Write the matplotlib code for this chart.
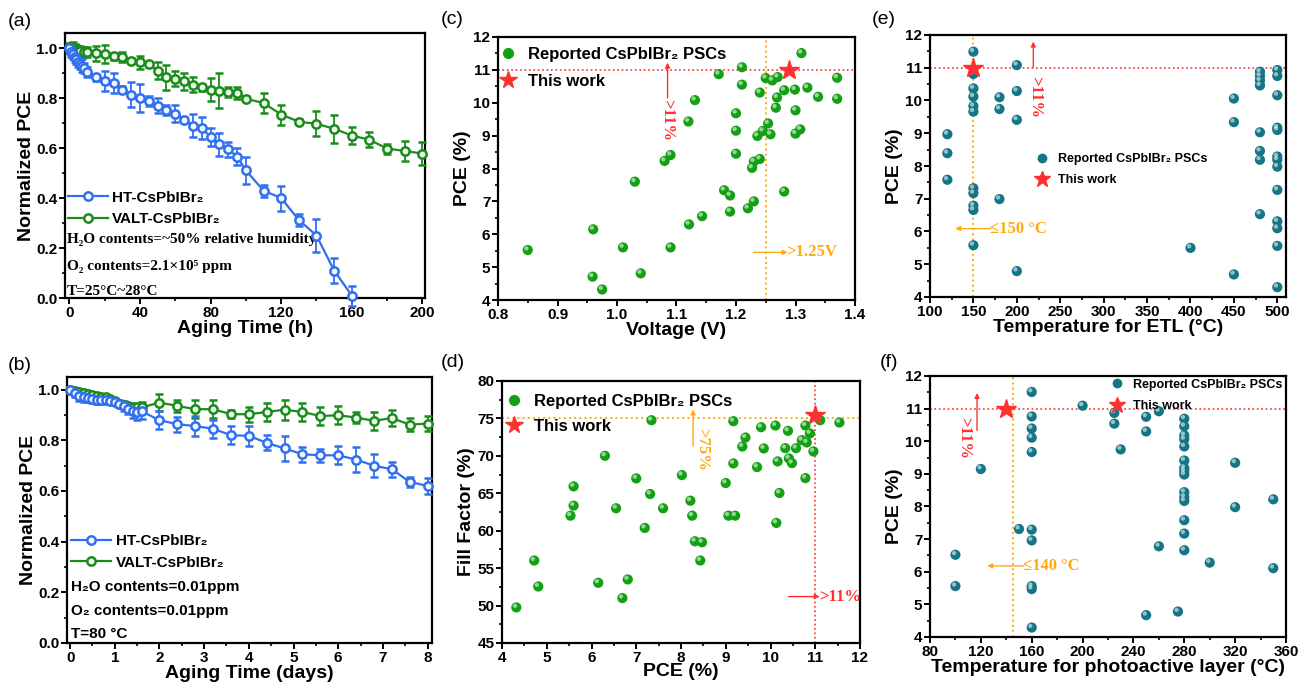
import matplotlib
matplotlib.use("Agg")
import matplotlib.pyplot as plt
from matplotlib.ticker import MultipleLocator, FormatStrFormatter
from matplotlib.lines import Line2D
import matplotlib.transforms as mtrans

plt.rcParams['font.family'] = ['Liberation Sans', 'DejaVu Sans']
plt.rcParams['font.weight'] = 'bold'
plt.rcParams['axes.labelweight'] = 'bold'

SANS = ['Liberation Sans', 'DejaVu Sans']
SERIF = ['Liberation Serif', 'DejaVu Serif']

BLUE = '#2f6ff0'
GREEN = '#1a8c1a'
SGREEN = '#14a014'
TEAL = '#137585'
RED = '#ff3030'
ORANGE = '#ffaa10'

# ---------------- data (a) ----------------
a_ht_t = [0, 1, 2, 3, 4, 5, 6, 7, 8, 10, 15, 20, 25, 30, 35, 40, 45, 50, 55, 60, 65, 70, 75, 80, 85, 90, 95, 100, 110, 120, 130, 140, 150, 160]
a_ht_v = [1.0, 0.985, 0.975, 0.965, 0.955, 0.945, 0.937, 0.93, 0.922, 0.905, 0.883, 0.87, 0.86, 0.834, 0.814, 0.80, 0.787, 0.77, 0.752, 0.738, 0.714, 0.69, 0.68, 0.644, 0.615, 0.595, 0.566, 0.511, 0.429, 0.40, 0.312, 0.25, 0.11, 0.01]
a_ht_e = [0.01, 0.02, 0.02, 0.02, 0.02, 0.02, 0.02, 0.025, 0.02, 0.02, 0.015, 0.04, 0.04, 0.015, 0.05, 0.055, 0.02, 0.03, 0.02, 0.035, 0.01, 0.045, 0.045, 0.035, 0.045, 0.03, 0.035, 0.055, 0.025, 0.05, 0.025, 0.065, 0.05, 0.04]
a_va_t = [0, 1, 2, 3, 4, 5, 6, 8, 10, 15, 20, 25, 30, 35, 40, 45, 50, 55, 60, 65, 70, 75, 80, 85, 90, 95, 100, 110, 120, 130, 140, 150, 160, 170, 180, 190, 200]
a_va_v = [1.0, 1.0, 0.998, 0.995, 0.993, 0.99, 0.988, 0.985, 0.983, 0.98, 0.977, 0.967, 0.963, 0.95, 0.943, 0.936, 0.91, 0.883, 0.878, 0.867, 0.854, 0.843, 0.834, 0.83, 0.825, 0.82, 0.797, 0.78, 0.734, 0.705, 0.697, 0.677, 0.65, 0.633, 0.598, 0.588, 0.578]
a_va_e = [0.02, 0.02, 0.025, 0.02, 0.02, 0.02, 0.02, 0.02, 0.02, 0.03, 0.035, 0.015, 0.02, 0.01, 0.025, 0.01, 0.035, 0.05, 0.03, 0.035, 0.03, 0.015, 0.045, 0.07, 0.02, 0.025, 0.01, 0.04, 0.04, 0.01, 0.05, 0.055, 0.035, 0.03, 0.02, 0.04, 0.045]

# ---------------- data (b) ----------------
b_ht_t = [0, 0.1, 0.2, 0.3, 0.4, 0.5, 0.6, 0.7, 0.8, 0.9, 1.0, 1.1, 1.2, 1.3, 1.4, 1.5, 1.6, 2.0, 2.4, 2.8, 3.2, 3.6, 4.0, 4.4, 4.8, 5.2, 5.6, 6.0, 6.4, 6.8, 7.2, 7.6, 8.0]
b_ht_v = [1.0, 0.985, 0.975, 0.972, 0.968, 0.963, 0.96, 0.96, 0.958, 0.955, 0.95, 0.945, 0.935, 0.925, 0.915, 0.912, 0.915, 0.879, 0.864, 0.856, 0.846, 0.82, 0.818, 0.79, 0.768, 0.745, 0.741, 0.741, 0.724, 0.70, 0.686, 0.636, 0.62]
b_ht_e = [0.01, 0.015, 0.02, 0.02, 0.015, 0.015, 0.015, 0.015, 0.01, 0.01, 0.01, 0.015, 0.02, 0.02, 0.025, 0.03, 0.03, 0.035, 0.03, 0.04, 0.035, 0.035, 0.04, 0.03, 0.05, 0.03, 0.025, 0.035, 0.05, 0.045, 0.03, 0.02, 0.03]
b_va_t = [0, 0.1, 0.2, 0.3, 0.4, 0.5, 0.6, 0.7, 0.8, 0.9, 1.0, 1.1, 1.2, 1.3, 1.4, 1.5, 1.6, 2.0, 2.4, 2.8, 3.2, 3.6, 4.0, 4.4, 4.8, 5.2, 5.6, 6.0, 6.4, 6.8, 7.2, 7.6, 8.0]
b_va_v = [1.0, 0.995, 0.99, 0.985, 0.982, 0.978, 0.975, 0.973, 0.97, 0.962, 0.955, 0.945, 0.94, 0.935, 0.932, 0.93, 0.93, 0.949, 0.936, 0.923, 0.923, 0.903, 0.903, 0.912, 0.921, 0.912, 0.896, 0.899, 0.89, 0.877, 0.888, 0.862, 0.866]
b_va_e = [0.01, 0.01, 0.01, 0.01, 0.01, 0.01, 0.01, 0.01, 0.01, 0.01, 0.01, 0.01, 0.01, 0.01, 0.01, 0.015, 0.02, 0.035, 0.025, 0.035, 0.035, 0.015, 0.03, 0.035, 0.04, 0.035, 0.035, 0.035, 0.02, 0.035, 0.03, 0.025, 0.03]

# ---------------- data (c) ----------------
c_voc = [0.85, 0.96, 0.959, 0.975, 1.01, 1.04, 1.03, 1.08, 1.09, 1.09, 1.12, 1.131, 1.121, 1.143, 1.171, 1.18, 1.19, 1.19, 1.21, 1.21, 1.20, 1.20, 1.20, 1.22, 1.23, 1.227, 1.23, 1.24, 1.236, 1.245, 1.24, 1.25, 1.261, 1.27, 1.254, 1.258, 1.269, 1.267, 1.281, 1.281, 1.299, 1.30, 1.30, 1.308, 1.31, 1.32, 1.338, 1.37, 1.37]
c_pce = [5.52, 6.15, 4.71, 4.32, 5.6, 4.81, 7.6, 8.23, 8.41, 5.6, 9.43, 10.08, 6.30, 6.55, 10.87, 7.34, 7.18, 6.69, 11.08, 10.55, 9.68, 9.15, 8.45, 6.79, 7.0, 8.02, 8.21, 8.29, 8.99, 9.14, 10.31, 10.75, 10.68, 10.78, 9.37, 9.04, 10.16, 9.85, 10.38, 7.30, 10.40, 9.77, 9.06, 9.19, 11.51, 10.46, 10.18, 10.76, 10.12]
c_this = (1.289, 11.0)

# ---------------- data (d) ----------------
d_pce = [4.32, 4.72, 4.81, 5.53, 5.60, 5.60, 6.30, 6.55, 6.15, 6.69, 6.81, 7.0, 7.19, 7.31, 7.34, 7.60, 8.02, 8.21, 8.25, 8.31, 8.47, 8.43, 9.0, 9.06, 9.21, 9.17, 9.17, 9.37, 9.44, 9.70, 9.79, 9.85, 10.11, 10.13, 10.16, 10.20, 10.33, 10.39, 10.41, 10.48, 10.57, 10.70, 10.78, 10.78, 10.81, 10.88, 10.96, 11.11, 11.54]
d_ff = [49.75, 56.02, 52.55, 62.01, 63.35, 65.92, 70.01, 63.0, 53.04, 51.0, 53.49, 66.99, 60.37, 64.90, 74.76, 63.0, 67.43, 64.01, 62.01, 58.59, 58.46, 56.02, 66.37, 62.01, 62.01, 74.63, 68.99, 71.25, 72.45, 68.50, 73.83, 70.99, 74.05, 61.04, 69.26, 65.04, 71.03, 73.34, 69.66, 69.03, 71.03, 72.10, 74.05, 67.03, 71.79, 72.99, 70.59, 74.76, 74.45]
d_this = (11.0, 75.4)

# ---------------- data (e) ----------------
e_temp = [120, 120, 120,
          150, 150, 150, 150, 150, 150, 150, 150, 150, 150, 150,
          180, 180, 180,
          200, 200, 200, 200,
          400,
          450, 450, 450,
          480, 480, 480, 480, 480, 480, 480, 480,
          500, 500, 500, 500, 500, 500, 500, 500, 500, 500, 500, 500, 500]
e_pce = [8.97, 8.39, 7.58,
         11.49, 10.81, 10.37, 10.12, 9.83, 9.66, 7.32, 7.17, 6.79, 6.66, 5.58,
         10.10, 9.74, 6.99,
         11.08, 10.29, 9.41, 4.79,
         5.50,
         10.06, 9.34, 4.69,
         10.88, 10.75, 10.61, 10.46, 9.03, 8.46, 8.19, 6.53,
         10.93, 10.75, 10.16, 9.17, 9.10, 8.29, 8.19, 7.98, 7.27, 6.31, 6.10, 5.56, 4.30]
e_this = (150, 11.0)

# ---------------- data (f) ----------------
f_temp = [100, 100, 120, 150,
          160, 160, 160, 160, 160, 160, 160, 160, 160, 160,
          200, 225, 225, 230, 250, 250, 250, 260, 260, 275,
          280, 280, 280, 280, 280, 280, 280, 280, 280, 280, 280, 280, 280, 280, 280,
          300, 320, 320, 350, 350]
f_pce = [6.52, 5.56, 9.15, 7.31,
         11.51, 10.76, 10.39, 10.11, 9.67, 7.29, 6.96, 5.56, 5.47, 4.29,
         11.09, 10.87, 10.54, 9.75, 10.75, 10.30, 4.67, 10.92, 6.78, 4.78,
         10.69, 10.46, 10.18, 10.06, 9.84, 9.41, 9.18, 9.08, 8.98, 8.44, 8.29, 8.17, 7.58, 7.17, 6.66,
         6.28, 9.34, 7.98, 8.22, 6.11]
f_this = (140, 11.0)

LEG_LABEL = 'Reported CsPbIBr₂ PSCs'
THIS_LABEL = 'This work'
HT_LABEL = 'HT-CsPbIBr₂'
VA_LABEL = 'VALT-CsPbIBr₂'

W, H = 1301, 686
fig = plt.figure(figsize=(W / 100, H / 100), dpi=100)


def make_ax(l, r, t, b):
    return fig.add_axes([l / W, (H - b) / H, (r - l) / W, (b - t) / H])


def style(ax, xmaj, xmin, ymaj, ymin, xfmt=None, yfmt=None):
    for s in ax.spines.values():
        s.set_linewidth(1.6)
    ax.xaxis.set_major_locator(MultipleLocator(xmaj))
    ax.xaxis.set_minor_locator(MultipleLocator(xmin))
    ax.yaxis.set_major_locator(MultipleLocator(ymaj))
    ax.yaxis.set_minor_locator(MultipleLocator(ymin))
    if xfmt:
        ax.xaxis.set_major_formatter(FormatStrFormatter(xfmt))
    if yfmt:
        ax.yaxis.set_major_formatter(FormatStrFormatter(yfmt))
    ax.tick_params(which='major', direction='out', length=4, width=1.4, labelsize=11, pad=1.5)
    ax.tick_params(which='minor', direction='out', length=2.5, width=1.2)
    for lab in ax.get_xticklabels() + ax.get_yticklabels():
        lab.set_fontweight('bold')


def sphere(ax, x, y, color, s=54):
    ax.scatter(x, y, s=s, color=color, edgecolors='none', zorder=3)
    tr = mtrans.offset_copy(ax.transData, fig=fig, x=-1.0, y=1.2, units='points')
    ax.scatter(x, y, s=s * 0.18, color='white', alpha=0.55, edgecolors='none', transform=tr, zorder=4)


def sphere_handle(color, ms=7):
    return Line2D([], [], ls='none', marker='o', ms=ms, mfc=color, mec=color)


def star_handle(ms=13):
    return Line2D([], [], ls='none', marker='*', ms=ms, mfc=RED, mec=RED)


def line_handle(c):
    return Line2D([], [], color=c, lw=1.6, marker='o', ms=6, mfc='white', mec=c, mew=1.8)


def line_panel(ax, ht_t, ht_v, ht_e, va_t, va_v, va_e):
    for t, v, e, c in [(va_t, va_v, va_e, GREEN), (ht_t, ht_v, ht_e, BLUE)]:
        ax.errorbar(t, v, yerr=e, color=c, lw=1.6, marker='o', ms=6, mfc='#f2f6ff' if c == BLUE else '#eef8ee',
                    mec=c, mew=1.8, capsize=3, elinewidth=1.3, capthick=1.3, clip_on=False, zorder=3)


# ================= (a) =================
axa = make_ax(65, 425, 33, 298)
line_panel(axa, a_ht_t, a_ht_v, a_ht_e, a_va_t, a_va_v, a_va_e)
axa.set_xlim(-2.5, 201.5)
axa.set_ylim(0, 1.06)
style(axa, 40, 20, 0.2, 0.1, yfmt='%.1f')
axa.set_xlabel('Aging Time (h)', fontsize=14, labelpad=0)
axa.set_ylabel('Normalized PCE', fontsize=14, labelpad=1)
axa.legend([line_handle(BLUE), line_handle(GREEN)], [HT_LABEL, VA_LABEL], loc='upper left',
           bbox_to_anchor=(0.008, 0.405), frameon=False,
           borderpad=0, borderaxespad=0, handlelength=2.6, handletextpad=0.3, labelspacing=0.5,
           prop={'family': SANS, 'weight': 'bold', 'size': 11})
for txt, yy in [('H₂O contents=~50% relative humidity', 0.219), ('O₂ contents=2.1×10⁵ ppm', 0.117),
                ('T=25°C~28°C', 0.025)]:
    axa.text(0.005, yy, txt, transform=axa.transAxes, family=SERIF, fontweight='bold', fontsize=11, va='center', ha='left')

# ================= (b) =================
axb = make_ax(67, 432, 377, 643)
line_panel(axb, b_ht_t, b_ht_v, b_ht_e, b_va_t, b_va_v, b_va_e)
axb.set_xlim(-0.07, 8.1)
axb.set_ylim(0, 1.05)
style(axb, 1, 0.5, 0.2, 0.1, yfmt='%.1f')
axb.set_xlabel('Aging Time (days)', fontsize=14, labelpad=0)
axb.set_ylabel('Normalized PCE', fontsize=14, labelpad=1)
axb.legend([line_handle(BLUE), line_handle(GREEN)], [HT_LABEL, VA_LABEL], loc='upper left',
           bbox_to_anchor=(0.012, 0.41), frameon=False,
           borderpad=0, borderaxespad=0, handlelength=2.6, handletextpad=0.3, labelspacing=0.5,
           prop={'family': SANS, 'weight': 'bold', 'size': 11})
for txt, yy in [('H₂O contents=0.01ppm', 0.21), ('O₂ contents=0.01ppm', 0.122)]:
    axb.text(0.01, yy, txt, transform=axb.transAxes, family=SANS, fontweight='bold', fontsize=11, va='center')
axb.text(0.01, 0.034, 'T=80 °C', transform=axb.transAxes, family=SANS, fontweight='bold', fontsize=11, va='center')

# ================= (c) =================
axc = make_ax(498, 855, 37, 300)
axc.axhline(11, color=RED, ls=':', lw=1.2, zorder=1)
axc.axvline(1.25, color=ORANGE, ls=':', lw=1.4, zorder=1)
sphere(axc, c_voc, c_pce, SGREEN)
axc.plot(*c_this, ls='none', marker='*', ms=15, color=RED, zorder=5)
axc.set_xlim(0.8, 1.4)
axc.set_ylim(4, 12)
style(axc, 0.1, 0.05, 1, 0.5, xfmt='%.1f')
axc.set_xlabel('Voltage (V)', fontsize=14, labelpad=0)
axc.set_ylabel('PCE (%)', fontsize=14, labelpad=2)
axc.annotate('', xy=(1.085, 11.22), xytext=(1.085, 10.15),
             arrowprops=dict(arrowstyle='-|>', color=RED, lw=1.0, mutation_scale=7, shrinkA=0, shrinkB=0))
axc.text(1.085, 10.12, '>11%', rotation=270, color=RED, family=SERIF, fontsize=12, ha='center', va='top')
axc.annotate('', xy=(1.287, 5.45), xytext=(1.229, 5.45),
             arrowprops=dict(arrowstyle='-|>', color=ORANGE, lw=1.0, mutation_scale=7, shrinkA=0, shrinkB=0))
axc.text(1.285, 5.45, '>1.25V', color=ORANGE, family=SERIF, fontsize=12, ha='left', va='center')
axc.legend([sphere_handle(SGREEN), star_handle()], [LEG_LABEL, THIS_LABEL], loc='upper left',
           bbox_to_anchor=(0.0, 0.963), frameon=False, borderpad=0, borderaxespad=0, handlelength=1.2,
           handletextpad=0.6, labelspacing=0.72, prop={'family': SANS, 'weight': 'bold', 'size': 12})

# ================= (d) =================
axd = make_ax(502, 860, 381, 643)
axd.axhline(75, color=ORANGE, ls=':', lw=1.4, zorder=1)
axd.axvline(11, color=RED, ls=':', lw=1.2, zorder=1)
sphere(axd, d_pce, d_ff, SGREEN)
axd.plot(*d_this, ls='none', marker='*', ms=15, color=RED, zorder=5)
axd.set_xlim(4, 12)
axd.set_ylim(45, 80)
style(axd, 1, 0.5, 5, 2.5)
axd.set_xlabel('PCE (%)', fontsize=14, labelpad=-1)
axd.set_ylabel('Fill Factor (%)', fontsize=14, labelpad=2)
axd.annotate('', xy=(8.27, 76.2), xytext=(8.27, 71.3),
             arrowprops=dict(arrowstyle='-|>', color=ORANGE, lw=1.0, mutation_scale=7, shrinkA=0, shrinkB=0))
axd.text(8.47, 73.7, '>75%', rotation=270, color=ORANGE, family=SERIF, fontsize=12, ha='center', va='top')
axd.annotate('', xy=(11.1, 51.2), xytext=(10.4, 51.2),
             arrowprops=dict(arrowstyle='-|>', color=RED, lw=1.0, mutation_scale=7, shrinkA=0, shrinkB=0))
axd.text(11.08, 51.2, '>11%', color=RED, family=SERIF, fontsize=12, ha='left', va='center')
axd.legend([sphere_handle(SGREEN), star_handle()], [LEG_LABEL, THIS_LABEL], loc='upper left',
           bbox_to_anchor=(0.005, 0.95), frameon=False, borderpad=0, borderaxespad=0, handlelength=1.2,
           handletextpad=0.6, labelspacing=0.6, prop={'family': SANS, 'weight': 'bold', 'size': 12})

# ================= (e) =================
axe = make_ax(930, 1286, 35, 297)
axe.axhline(11, color=RED, ls=':', lw=1.2, zorder=1)
axe.axvline(150, color=ORANGE, ls=':', lw=1.4, zorder=1)
sphere(axe, e_temp, e_pce, TEAL)
axe.plot(*e_this, ls='none', marker='*', ms=15, color=RED, zorder=5)
axe.set_xlim(100, 510)
axe.set_ylim(4, 12)
style(axe, 50, 25, 1, 0.5)
axe.set_xlabel('Temperature for ETL (°C)', fontsize=14, labelpad=0)
axe.set_ylabel('PCE (%)', fontsize=14, labelpad=2)
axe.annotate('', xy=(219, 11.8), xytext=(219, 11.02),
             arrowprops=dict(arrowstyle='-|>', color=RED, lw=1.0, mutation_scale=7, shrinkA=0, shrinkB=0))
axe.text(221, 10.75, '>11%', rotation=270, color=RED, family=SERIF, fontsize=12, ha='center', va='top')
axe.annotate('', xy=(129, 6.09), xytext=(170, 6.09),
             arrowprops=dict(arrowstyle='-|>', color=ORANGE, lw=1.0, mutation_scale=7, shrinkA=0, shrinkB=0))
axe.text(169, 6.09, '≤150 °C', color=ORANGE, family=SERIF, fontsize=12, ha='left', va='center')
axe.legend([sphere_handle(TEAL, 6), star_handle(12)], [LEG_LABEL, THIS_LABEL], loc='upper left',
           bbox_to_anchor=(0.29, 0.55), frameon=False, borderpad=0, borderaxespad=0, handlelength=1.4,
           handletextpad=0.6, labelspacing=0.75, prop={'family': SANS, 'weight': 'bold', 'size': 9})

# ================= (f) =================
axf = make_ax(930, 1286, 376, 637)
axf.axhline(11, color=RED, ls=':', lw=1.2, zorder=1)
axf.axvline(145, color=ORANGE, ls=':', lw=1.4, zorder=1)
sphere(axf, f_temp, f_pce, TEAL)
axf.plot(*f_this, ls='none', marker='*', ms=15, color=RED, zorder=5)
axf.set_xlim(80, 360)
axf.set_ylim(4, 12)
style(axf, 40, 20, 1, 0.5)
axf.set_xlabel('Temperature for photoactive layer (°C)', fontsize=14, labelpad=0)
axf.set_ylabel('PCE (%)', fontsize=14, labelpad=2)
axf.annotate('', xy=(117, 11.48), xytext=(117, 10.33),
             arrowprops=dict(arrowstyle='-|>', color=RED, lw=1.0, mutation_scale=7, shrinkA=0, shrinkB=0))
axf.text(107, 10.75, '>11%', rotation=270, color=RED, family=SERIF, fontsize=12, ha='center', va='top')
axf.annotate('', xy=(125, 6.18), xytext=(154, 6.18),
             arrowprops=dict(arrowstyle='-|>', color=ORANGE, lw=1.0, mutation_scale=7, shrinkA=0, shrinkB=0))
axf.text(153, 6.18, '≤140 °C', color=ORANGE, family=SERIF, fontsize=12, ha='left', va='center')
axf.legend([sphere_handle(TEAL, 6), star_handle(12)], [LEG_LABEL, THIS_LABEL], loc='upper left',
           bbox_to_anchor=(0.5, 0.99), frameon=False, borderpad=0, borderaxespad=0, handlelength=1.4,
           handletextpad=0.6, labelspacing=0.75, prop={'family': SANS, 'weight': 'bold', 'size': 9})

# panel labels
for lab, x, y in [('(a)', 8, 22), ('(b)', 8, 365), ('(c)', 441, 20), ('(d)', 441, 362), ('(e)', 872, 20), ('(f)', 880, 362)]:
    fig.text(x / W, 1 - y / H, lab, fontsize=14, fontweight='normal', family=SANS, va='center', ha='left')

fig.savefig('out.png', dpi=100)
